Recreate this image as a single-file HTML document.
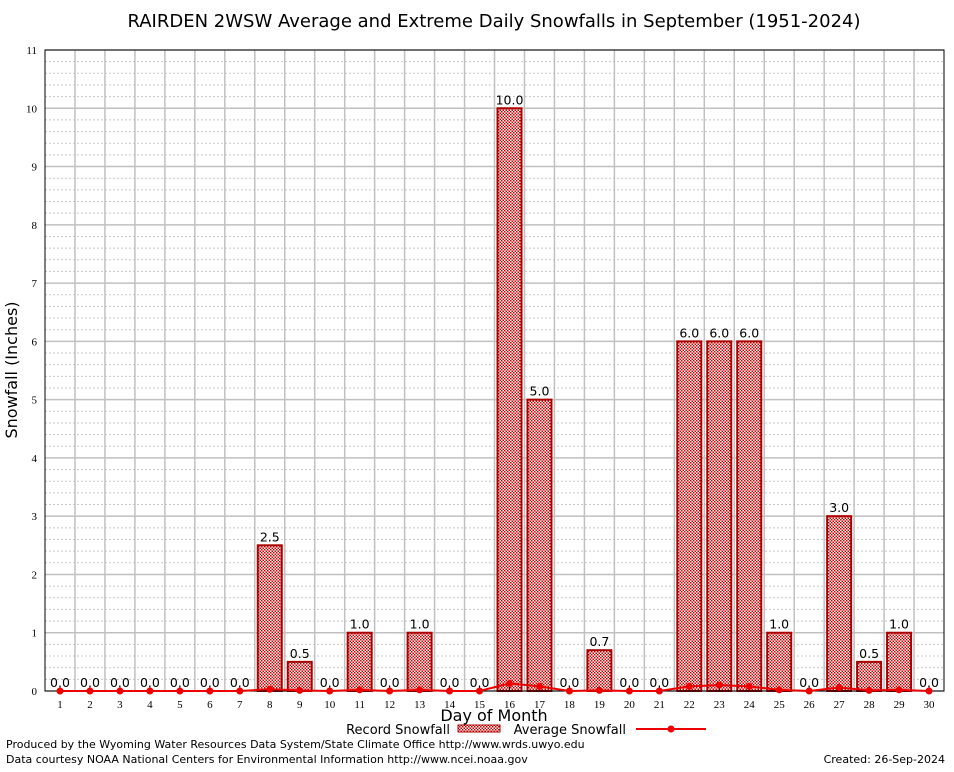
<!DOCTYPE html>
<html><head><meta charset="utf-8"><style>
body{margin:0;background:#fff;width:954px;height:768px;overflow:hidden;font-family:"DejaVu Sans","Liberation Sans",sans-serif}
</style></head><body>
<svg id="c" width="954" height="768" xmlns="http://www.w3.org/2000/svg">
<defs><pattern id="pat" width="3" height="3" patternUnits="userSpaceOnUse"><rect width="3" height="3" fill="#fff"/><rect width="1.5" height="1.5" fill="#c00"/><rect x="1.5" y="1.5" width="1.5" height="1.5" fill="#c00"/></pattern></defs>
<text x="494" y="27" font-size="18" text-anchor="middle" fill="#000">RAIRDEN 2WSW Average and Extreme Daily Snowfalls in September (1951-2024)</text>
<g id="grid"></g><g id="bars"></g><g id="avg"></g><g id="axes"></g>
<text transform="translate(17,370) rotate(-90)" font-size="16" text-anchor="middle">Snowfall (Inches)</text>
<text x="494" y="721" font-size="16" text-anchor="middle">Day of Month</text>
<g>
<text x="450" y="734" font-size="13" text-anchor="end">Record Snowfall</text>
<rect x="458" y="725" width="42" height="7" fill="url(#pat)" stroke="#a00"/>
<text x="626" y="734" font-size="13" text-anchor="end">Average Snowfall</text>
<line x1="636" y1="729" x2="706" y2="729" stroke="#e00" stroke-width="2"/>
<circle cx="671" cy="729" r="3.5" fill="#e00"/>
</g>
<text x="6" y="748" font-size="11">Produced by the Wyoming Water Resources Data System/State Climate Office http://www.wrds.uwyo.edu</text>
<text x="6" y="763" font-size="11">Data courtesy NOAA National Centers for Environmental Information http://www.ncei.noaa.gov</text>
<text x="945" y="763" font-size="11" text-anchor="end">Created:  26-Sep-2024</text>
</svg>
<script>
const days=[1,2,3,4,5,6,7,8,9,10,11,12,13,14,15,16,17,18,19,20,21,22,23,24,25,26,27,28,29,30];
const recordSnow=[0,0,0,0,0,0,0,2.5,0.5,0,1,0,1,0,0,10,5,0,0.7,0,0,6,6,6,1,0,3,0.5,1,0];
const avgSnow=[0,0,0,0,0,0,0,0.03,0.01,0,0.02,0,0.02,0,0,0.13,0.08,0,0.01,0,0,0.08,0.1,0.08,0.02,0,0.06,0.01,0.02,0];
const yTicks=[0,1,2,3,4,5,6,7,8,9,10,11];
const L=45,R=944,T=50,B=691,YMAX=11;
const xs=d=>60+(d-1)*(R-L)/30;
const ys=v=>B-(v/YMAX)*(B-T);
const NS="http://www.w3.org/2000/svg";
function mk(t,a,p){const e=document.createElementNS(NS,t);for(const k in a)e.setAttribute(k,a[k]);p.appendChild(e);return e;}
const G=document.getElementById('grid'),Bg=document.getElementById('bars'),A=document.getElementById('avg'),X=document.getElementById('axes');
for(let v=0;v<=YMAX;v+=0.2){const y=ys(v);const major=Math.abs(v-Math.round(v))<1e-6;
const l=mk('line',{x1:L,x2:R,y1:y,y2:y,stroke:major?'#c0c0c0':'#c8c8c8','stroke-width':major?1.5:1,'stroke-dasharray':major?'':'2,2'},G);

}
for(let i=1;i<30;i++){const x=(xs(i)+xs(i+1))/2;const l=mk('line',{x1:x,x2:x,y1:T,y2:B,stroke:'#c0c0c0','stroke-width':1.5},G);

}
days.forEach((d,i)=>{const v=recordSnow[i],x=xs(d);
if(v>0){const r=mk('rect',{x:x-12,y:ys(v),width:24,height:B-ys(v),fill:'url(#pat)',stroke:'#a00','stroke-width':2},Bg);

}
const t=mk('text',{x:x,y:ys(v)-4,'font-size':12.5,'text-anchor':'middle'},Bg);t.textContent=v.toFixed(1);


const tl=mk('text',{x:x,y:708,'font-size':11,'text-anchor':'middle','font-family':'Liberation Serif,serif'},X);tl.textContent=d;


const tk=mk('line',{x1:x,x2:x,y1:B,y2:B-4,stroke:'#000'},X);

});
const fr=mk('rect',{x:L,y:T,width:R-L,height:B-T,fill:'none',stroke:'#000'},X);


const pl=mk('polyline',{points:days.map((d,i)=>xs(d)+','+ys(avgSnow[i])).join(' '),fill:'none',stroke:'#e00','stroke-width':2},X);


days.forEach((d,i)=>{const c=mk('circle',{cx:xs(d),cy:ys(avgSnow[i]),r:3.5,fill:'#e00'},X);

});
yTicks.forEach(v=>{const t=mk('text',{x:L-8,y:ys(v)+4,'font-size':11,'text-anchor':'end','font-family':'Liberation Serif,serif'},X);t.textContent=v;

});
</script>
</body></html>
